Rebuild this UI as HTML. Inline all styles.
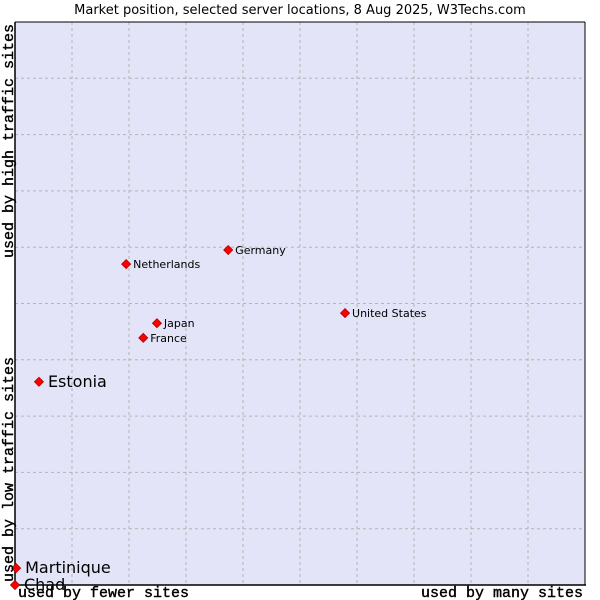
<!DOCTYPE html>
<html><head><meta charset="utf-8"><style>
html,body{margin:0;padding:0;background:#fff;}
svg{display:block;font-family:"DejaVu Sans","Liberation Sans",sans-serif;}
</style></head><body>
<svg id="chart" width="600" height="600" viewBox="0 0 600 600">
<text x="300" y="14" text-anchor="middle" font-size="13" fill="#000">Market position, selected server locations, 8 Aug 2025, W3Techs.com</text>
<rect x="15" y="22" width="570" height="563" fill="#e3e4f8"/>
<g id="grid"></g>
<line x1="15" y1="22" x2="15" y2="586" stroke="#000" stroke-width="1.5"/>
<line x1="15" y1="585" x2="586" y2="585" stroke="#000" stroke-width="1.5"/>
<line x1="15" y1="22" x2="585" y2="22" stroke="#000" stroke-width="1"/>
<line x1="585" y1="22" x2="585" y2="585" stroke="#000" stroke-width="1"/>
<g id="points"></g>
<text x="18" y="597" font-family="'Liberation Mono',monospace" font-size="15" stroke="#000" stroke-width="0.4">used by fewer sites</text>
<text x="583" y="597" text-anchor="end" font-family="'Liberation Mono',monospace" font-size="15" stroke="#000" stroke-width="0.4">used by many sites</text>
<text transform="translate(13,582) rotate(-90)" font-family="'Liberation Mono',monospace" font-size="15" stroke="#000" stroke-width="0.4">used by low traffic sites</text>
<text transform="translate(13,24) rotate(-90)" text-anchor="end" font-family="'Liberation Mono',monospace" font-size="15" stroke="#000" stroke-width="0.4">used by high traffic sites</text>
</svg>
<script>
const countries = ["Germany","Netherlands","United States","Japan","France","Estonia","Martinique","Chad"];
const siteShare = [37.4,19.5,57.9,24.9,22.5,4.2,0.2,0];
const trafficShare = [59.5,57.0,48.3,46.5,43.9,36.1,3.0,0];
const highlighted = [false,false,false,false,false,true,true,true];
const gridTicks = [10,20,30,40,50,60,70,80,90];
const NS="http://www.w3.org/2000/svg";
const X0=15,X1=585,Y0=585,Y1=22;
const xs=v=>X0+(X1-X0)*v/100;
const ys=v=>Y0-(Y0-Y1)*v/100;
const grid=document.getElementById('grid');
gridTicks.forEach(t=>{
  let l=document.createElementNS(NS,'line');
  l.setAttribute('x1',xs(t));l.setAttribute('x2',xs(t));l.setAttribute('y1',Y1);l.setAttribute('y2',Y0);
  l.setAttribute('stroke','#b4b4b4');l.setAttribute('stroke-dasharray','3,3');
  
  
  grid.appendChild(l);
  let h=document.createElementNS(NS,'line');
  h.setAttribute('y1',ys(t));h.setAttribute('y2',ys(t));h.setAttribute('x1',X0);h.setAttribute('x2',X1);
  h.setAttribute('stroke','#b4b4b4');h.setAttribute('stroke-dasharray','3,3');
  
  
  grid.appendChild(h);
});
const pts=document.getElementById('points');
countries.forEach((c,i)=>{
  const x=xs(siteShare[i]),y=ys(trafficShare[i]);
  const g=document.createElementNS(NS,'g');
  
  
  const d=document.createElementNS(NS,'polygon');
  const r=4.5;
  d.setAttribute('points',`${x},${y-r} ${x+r},${y} ${x},${y+r} ${x-r},${y}`);
  d.setAttribute('fill','#ff0000');d.setAttribute('stroke','#b00000');d.setAttribute('stroke-width','0.8');
  
  
  g.appendChild(d);
  const t=document.createElementNS(NS,'text');
  const big=highlighted[i];
  t.setAttribute('x',x+(big?9:7));t.setAttribute('y',y+(big?5:4));
  t.setAttribute('font-size',big?'16':'11');t.setAttribute('fill','#000');
  t.textContent=c;
  
  
  g.appendChild(t);
  pts.appendChild(g);
});
</script>
</body></html>
